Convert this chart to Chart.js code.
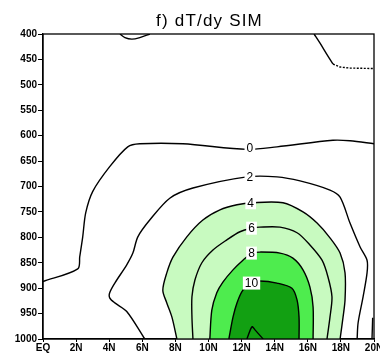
<!DOCTYPE html>
<html lang="en">
<head>
  <meta charset="UTF-8" />
  <title>dT/dy SIM</title>
  <style>
    html, body { margin: 0; padding: 0; background: #fff; }
    #wrap { width: 380px; height: 355px; }
  </style>
</head>
<body>
  <div id="wrap"><canvas id="myChart" width="380" height="355"></canvas></div>
  <script src="https://cdn.jsdelivr.net/npm/chart.js@4.4.1/dist/chart.umd.min.js"></script>
  <script>
    // axis ticks
    const latTicks = [0, 2, 4, 6, 8, 10, 12, 14, 16, 18, 20];
    const latLabels = ["EQ", "2N", "4N", "6N", "8N", "10N", "12N", "14N", "16N", "18N", "20N"];
    const pTicks = [400, 450, 500, 550, 600, 650, 700, 750, 800, 850, 900, 950, 1000];

    // contour lines (latitude, pressure in hPa)
    const c0Lat = [0, 2.1, 2.22, 2.4, 2.58, 3.0, 4.03, 5.12, 5.85, 8.45, 12.32, 14.14, 17.52, 18.55, 20];
    const c0P   = [887, 862, 838, 799, 752, 710, 661, 622, 616, 616, 627, 622, 609, 610, 616];
    const c0TopLat = [4.65, 4.95, 5.37, 5.85, 6.46];
    const c0TopP   = [400, 407, 410, 407, 400];
    const c0EdgeLat = [19.92, 19.88];
    const c0EdgeP   = [958, 1000];

    const c2Lat = [6.15, 5.06, 4.34, 4.03, 4.03, 4.34, 5.06, 5.43, 5.73, 6.45, 7.66, 9.06, 12.32, 14.14, 15.53, 17.34, 17.95, 18.55, 19.16, 19.58, 19.58, 19.34, 19.04, 18.98];
    const c2P   = [1000, 946, 929, 919, 909, 890, 854, 831, 799, 766, 723, 703, 681, 681, 689, 707, 721, 772, 819, 845, 870, 917, 968, 1000];

    const c4Lat = [8.09, 7.79, 7.48, 7.24, 7.48, 7.85, 8.69, 9.66, 10.69, 11.72, 12.63, 14.5, 15.71, 16.56, 17.34, 17.95, 18.25, 18.25, 18.13, 17.95];
    const c4P   = [1000, 957, 929, 904, 870, 839, 799, 766, 746, 736, 732, 732, 750, 772, 801, 831, 870, 923, 957, 1000];

    const c6Lat = [9.06, 9.0, 9.0, 9.18, 9.6, 10.27, 11.11, 11.9, 12.63, 13.1, 14.32, 15.35, 16.13, 16.86, 17.22, 17.46, 17.34, 17.16];
    const c6P   = [1000, 957, 917, 884, 850, 825, 805, 789, 782, 780, 780, 791, 815, 845, 878, 917, 957, 1000];

    const c8Lat = [10.08, 10.2, 10.5, 10.87, 11.48, 12.08, 12.63, 13.1, 14.32, 15.1, 15.71, 16.13, 16.32, 16.32];
    const c8P   = [1000, 943, 909, 888, 864, 845, 831, 829, 831, 841, 864, 898, 937, 1000];

    const c10Lat = [11.23, 11.48, 11.72, 12.08, 12.63, 13.1, 14.14, 15.04, 15.35, 15.47, 15.47];
    const c10P   = [1000, 957, 929, 904, 890, 886, 890, 900, 923, 957, 1000];

    const c12Lat = [12.32, 12.63, 12.81, 13.3];
    const c12P   = [1000, 976, 982, 1000];

    const negLat = [16.38, 16.74, 17.17, 17.52];
    const negP   = [400, 418, 441, 459];
    const negDashLat = [17.52, 17.95, 18.55, 20];
    const negDashP   = [459, 465, 467, 468];

    // contour labels
    const labelText = ["0", "2", "4", "6", "8", "10"];
    const labelLat  = [12.5, 12.5, 12.55, 12.6, 12.6, 12.6];
    const labelP    = [624, 681, 732, 782, 831, 890];

    const pts = (xs, ys) => xs.map((x, i) => ({ x: x, y: ys[i] }));

    const line = (xs, ys, extra) => Object.assign({
      data: pts(xs, ys),
      showLine: true,
      pointRadius: 0,
      borderColor: "#000",
      borderWidth: 1.4,
      tension: 0.3,
      fill: false,
    }, extra || {});

    const datasets = [
      line(c4Lat, c4P, { fill: "shape", backgroundColor: "rgb(200,250,192)", order: 10 }),
      line(c6Lat, c6P, { order: 9 }),
      line(c8Lat, c8P, { fill: "shape", backgroundColor: "rgb(78,236,78)", order: 8 }),
      line(c10Lat, c10P, { fill: "shape", backgroundColor: "rgb(18,160,18)", order: 7 }),
      line(c12Lat, c12P, { order: 6 }),
      line(c2Lat, c2P, { order: 5 }),
      line(c0Lat, c0P, { order: 4 }),
      line(c0TopLat, c0TopP, { order: 3 }),
      line(c0EdgeLat, c0EdgeP, { order: 3 }),
      line(negLat, negP, { order: 2 }),
      line(negDashLat, negDashP, { order: 2, borderDash: [2, 1.5], tension: 0 }),
    ];

    const extras = {
      id: "extras",
      afterDatasetsDraw(chart) {
        const { ctx, chartArea: a, scales } = chart;
        ctx.save();
        // contour labels with white boxes
        ctx.font = "12px 'Liberation Sans', Arial, sans-serif";
        ctx.textAlign = "center";
        ctx.textBaseline = "middle";
        labelText.forEach((t, i) => {
          const x = scales.x.getPixelForValue(labelLat[i]);
          const y = scales.y.getPixelForValue(labelP[i]);
          const w = ctx.measureText(t).width + 4;
          ctx.fillStyle = "#fff";
          ctx.fillRect(x - w / 2, y - 6.5, w, 13);
          ctx.fillStyle = "#000";
          ctx.fillText(t, x, y + 0.5);
        });
        // frame
        ctx.strokeStyle = "#000";
        ctx.lineWidth = 1.3;
        ctx.strokeRect(a.left, a.top, a.right - a.left, a.bottom - a.top);
        // title
        ctx.font = "17px 'Liberation Sans', Arial, sans-serif";
        ctx.letterSpacing = "1.2px";
        ctx.textBaseline = "alphabetic";
        ctx.fillText("f) dT/dy SIM", (a.left + a.right) / 2 + 1, 26);
        ctx.restore();
      },
    };

    new Chart(document.getElementById("myChart"), {
      type: "scatter",
      data: { datasets: datasets },
      options: {
        responsive: false,
        animation: false,
        layout: { padding: { top: 34, right: 6, left: 0, bottom: 0 } },
        plugins: { legend: { display: false }, tooltip: { enabled: false }, title: { display: false } },
        scales: {
          x: {
            type: "linear",
            min: 0,
            max: 20,
            afterBuildTicks: (s) => { s.ticks = latTicks.map((v) => ({ value: v })); },
            afterFit: (s) => { s.height = 16; s.paddingLeft = 0; s.paddingRight = 0; },
            ticks: {
              autoSkip: false,
              maxRotation: 0,
              padding: 0,
              color: "#000",
              font: { family: "'Liberation Sans', Arial, sans-serif", size: 10, weight: "bold" },
              callback: (v) => latLabels[latTicks.indexOf(v)],
            },
            grid: { drawOnChartArea: false, color: "#000", tickLength: 3, lineWidth: 1 },
            border: { color: "#000", width: 1.3 },
          },
          y: {
            type: "linear",
            reverse: true,
            min: 400,
            max: 1000,
            afterBuildTicks: (s) => { s.ticks = pTicks.map((v) => ({ value: v })); },
            afterFit: (s) => { s.width = 43; s.paddingTop = 0; s.paddingBottom = 0; },
            ticks: {
              autoSkip: false,
              padding: 1,
              color: "#000",
              font: { family: "'Liberation Sans', Arial, sans-serif", size: 10, weight: "bold" },
              callback: (v) => String(v),
            },
            grid: { drawOnChartArea: false, color: "#000", tickLength: 5, lineWidth: 1 },
            border: { color: "#000", width: 1.3 },
          },
        },
      },
      plugins: [extras],
    });
  </script>
</body>
</html>
